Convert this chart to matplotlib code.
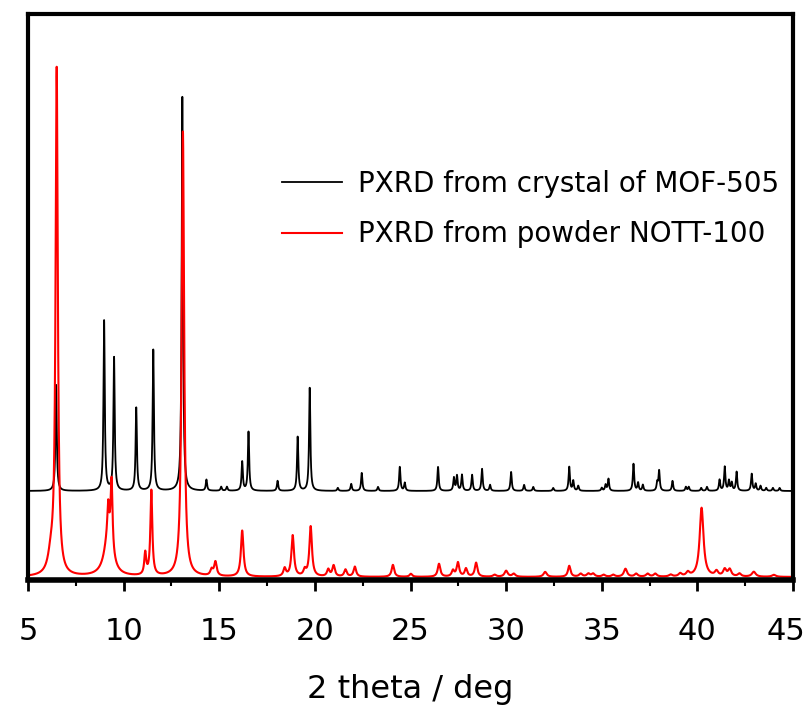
import numpy as np
import matplotlib
matplotlib.use('Agg')
import matplotlib.pyplot as plt
from matplotlib.transforms import ScaledTranslation

# peak list: position (2theta), height (arb.), half width
mof505_pos = [6.47, 8.98, 9.50, 10.66, 11.55, 13.07, 14.33, 15.10, 15.40, 16.20, 16.53,
              18.05, 19.10, 19.73, 21.20, 21.90, 22.45, 23.30, 24.44, 24.70, 26.44,
              27.27, 27.43, 27.69, 28.22, 28.74, 29.16, 30.26, 30.94, 31.42, 32.46,
              33.30, 33.51, 33.77, 35.00, 35.20, 35.35, 36.66, 36.90, 37.15, 37.90,
              38.00, 38.70, 39.40, 39.55, 40.20, 40.50, 41.16, 41.43, 41.65, 41.80,
              42.05, 42.84, 43.05, 43.30, 43.60, 43.95, 44.30]
mof505_int = [106, 170, 133, 83, 141, 394, 11, 4, 4, 29, 59,
              10, 54, 103, 3, 7, 18, 4, 24, 8, 24,
              13, 15, 16, 16, 22, 6, 19, 6, 4, 3,
              24, 10, 5, 3, 6, 12, 27, 8, 6, 8,
              20, 10, 4, 4, 3, 4, 11, 24, 10, 8,
              19, 17, 7, 5, 3, 3, 3]

nott100_pos = [6.20, 6.50, 9.20, 9.19, 9.37, 11.13, 11.45, 13.10, 14.60, 14.80,
               16.20, 18.42, 18.84, 19.47, 19.78, 20.70, 20.98, 21.60, 22.09,
               24.08, 25.02, 26.49, 27.22, 27.48, 27.90, 28.43, 29.40, 30.00, 30.40,
               32.04, 33.30, 33.90, 34.30, 34.55, 35.10, 35.60, 36.24, 36.80,
               37.40, 37.80, 38.60, 39.10, 39.50, 40.22, 41.00, 41.43, 41.69,
               42.20, 42.95, 44.00]
nott100_int = [18, 505, 40, 30, 70, 22, 85, 445, 6, 14,
               46, 8, 41, 6, 50, 7, 11, 7, 10,
               12, 3, 13, 6, 14, 8, 14, 2, 6, 3,
               5, 11, 3, 3, 3, 2, 2, 8, 3,
               3, 3, 2, 3, 4, 69, 5, 7, 7,
               3, 5, 2]
nott100_wid = [0.18, 0.07, 0.25, 0.05, 0.06, 0.06, 0.06, 0.075, 0.08, 0.08,
               0.08, 0.08, 0.08, 0.08, 0.08, 0.08, 0.08, 0.08, 0.08,
               0.08, 0.08, 0.08, 0.08, 0.08, 0.08, 0.08, 0.1, 0.1, 0.1,
               0.1, 0.08, 0.1, 0.1, 0.1, 0.1, 0.1, 0.1, 0.1,
               0.1, 0.1, 0.1, 0.1, 0.1, 0.12, 0.1, 0.1, 0.1,
               0.1, 0.12, 0.12]

offset = 86  # vertical shift of the crystal pattern

x = np.arange(5, 45.0001, 0.005)


def pattern(pos, heights, widths):
    y = np.zeros_like(x)
    for p, h, w in zip(pos, heights, widths):
        y += h * w**2 / ((x - p)**2 + w**2)
    return y


y_mof = pattern(mof505_pos, mof505_int, [0.04] * len(mof505_pos)) + offset
y_nott = pattern(nott100_pos, nott100_int, nott100_wid)

fig = plt.figure(figsize=(8.09, 7.11), dpi=100)
ax = fig.add_axes([28 / 809, 1 - 580 / 711, 765 / 809, 566 / 711])

ax.plot(x, y_mof, color='black', lw=1.3, label='PXRD from crystal of MOF-505')
ax.plot(x, y_nott, color='red', lw=1.5, label='PXRD from powder NOTT-100')

ax.set_xlim(5, 45)
ax.set_ylim(-3, 563)
ax.set_xticks(np.arange(5, 46, 5))
ax.set_xticks(np.arange(7.5, 45, 5), minor=True)
ax.set_yticks([])
ax.tick_params(axis='x', which='major', length=8, width=2, labelsize=22, pad=19)
ax.tick_params(axis='x', which='minor', length=4, width=1.5)
for s in ax.spines.values():
    s.set_linewidth(3)
ax.spines['bottom'].set_linewidth(4)
ax.set_xlabel('2 theta / deg', fontsize=23, labelpad=20)

# last label sits against the right edge, nudge it in a little
last = ax.get_xticklabels()[-1]
last.set_transform(last.get_transform() + ScaledTranslation(-0.07, 0, fig.dpi_scale_trans))

ax.legend(loc='center left', bbox_to_anchor=(0.332, 0.655), frameon=False,
          fontsize=20, handlelength=2.16, handletextpad=0.58, labelspacing=0.8,
          borderaxespad=0, borderpad=0)

fig.savefig('out.png', dpi=100)
